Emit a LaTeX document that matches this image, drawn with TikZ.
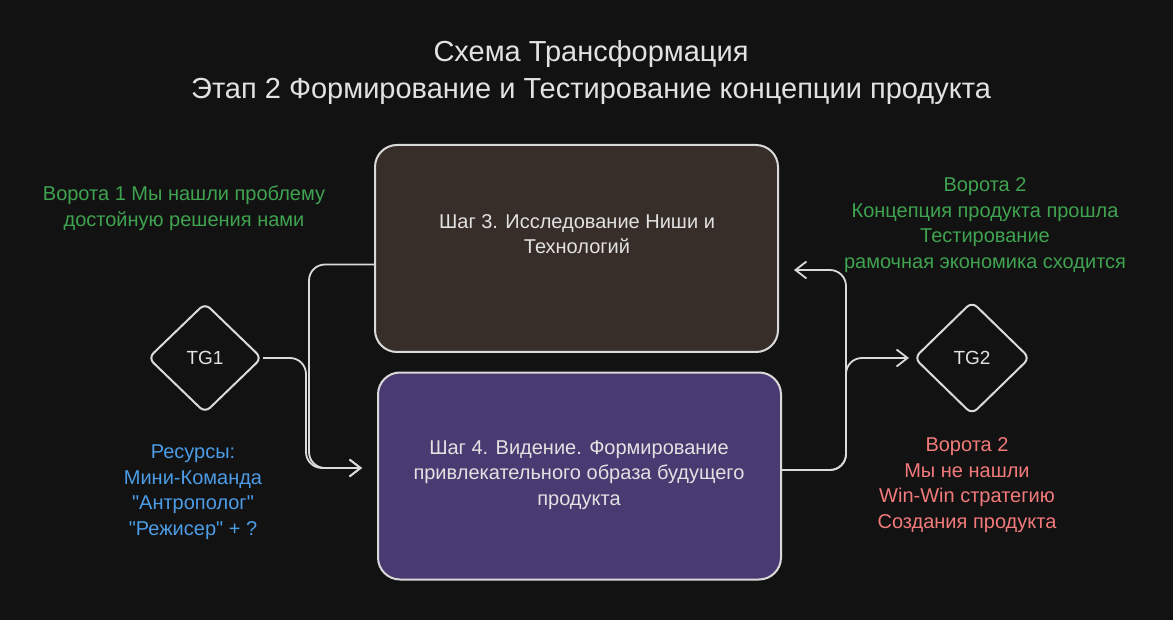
\documentclass[tikz,border=0pt]{standalone}
\usepackage{fontspec}
\setmainfont{Liberation Sans}
\usetikzlibrary{shapes.geometric,arrows.meta}
\definecolor{bgc}{HTML}{121212}
\definecolor{strokec}{HTML}{DADADA}
\definecolor{textc}{HTML}{E2E2E2}
\definecolor{boxbrown}{HTML}{372D29}
\definecolor{boxpurple}{HTML}{4A3A72}
\definecolor{greenc}{HTML}{3FA350}
\definecolor{bluec}{HTML}{4C9CE6}
\definecolor{redc}{HTML}{F27A7A}
\tikzset{
  stepbox/.style={draw=strokec, line width=2pt, rounded corners=22pt,
    minimum width=403pt, minimum height=207pt, inner sep=0pt},
  gate/.style={draw=strokec, line width=2pt, diamond, rounded corners=7pt,
    minimum width=114pt, minimum height=110pt, inner sep=0pt,
    text=textc, font=\fontsize{19}{22}\selectfont},
  txt/.style={align=center, font=\fontsize{20}{25.5}\selectfont, inner sep=0pt},
  conn/.style={draw=strokec, line width=1.8pt, rounded corners=16pt,
    -{Straight Barb[length=11pt,width=17pt]}},
}
\begin{document}
\begin{tikzpicture}[x=1pt,y=-1pt]
\fill[bgc] (0,0) rectangle (1173,620);
\useasboundingbox (0,0) rectangle (1173,620);

\node[txt, text=textc, font=\fontsize{29}{37}\selectfont] (title) at (591,73)
  {Схема Трансформация\\Этап 2 Формирование и Тестирование концепции продукта};

\node[stepbox, fill=boxbrown] (b3) at (576.5,248.5) {};
\node[txt, text=textc] (b3t) at (577,234) {Шаг 3. Исследование Ниши и\\Технологий};

\node[stepbox, fill=boxpurple] (b4) at (579.5,476) {};
\node[txt, text=textc] (b4t) at (579,475) {Шаг 4. Видение. Формирование\\привлекательного образа будущего\\продукта};

\node[gate] (tg1) at (205,358) {TG1};
\node[gate, minimum width=116pt, minimum height=113pt] (tg2) at (972,358) {TG2};

\node[txt, text=greenc] (g1) at (184,208) {Ворота 1 Мы нашли проблему\\достойную решения нами};
\node[txt, text=greenc] (g2) at (985,225) {Ворота 2\\Концепция продукта прошла\\Тестирование\\рамочная экономика сходится};
\node[txt, text=bluec] (res) at (193,492) {Ресурсы:\\Мини-Команда\\\textquotedbl Антрополог\textquotedbl\\\textquotedbl Режисер\textquotedbl{} + ?};
\node[txt, text=redc] (fail) at (967,485) {Ворота 2\\Мы не нашли\\Win-Win стратегию\\Создания продукта};

\draw[conn, shorten >=15pt] (tg1.east) -- ++(43,0) |- ([yshift=8pt]b4.west);
\draw[conn, shorten >=15pt] ([yshift=-16pt]b3.west) -- ++(-65,0) |- ([yshift=8pt]b4.west);
\draw[conn, shorten >=15pt] ([yshift=6pt]b4.east) -- ++(64,0) |- ([yshift=-21.5pt]b3.east);
\draw[conn, shorten >=4pt] ([yshift=6pt]b4.east) -- ++(64,0) |- (tg2.west);
\end{tikzpicture}
\end{document}
